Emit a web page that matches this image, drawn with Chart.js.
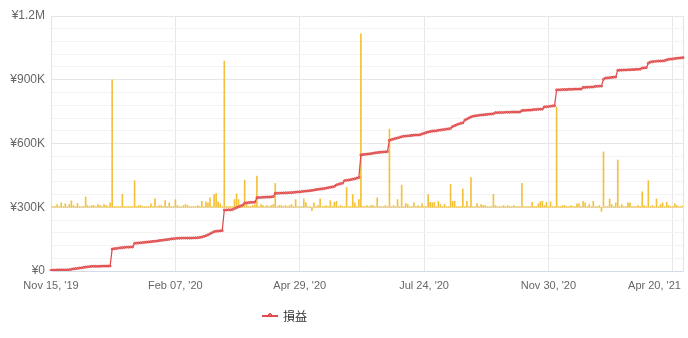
<!DOCTYPE html>
<html>
<head>
<meta charset="utf-8">
<script src="https://cdn.jsdelivr.net/npm/chart.js@4/dist/chart.umd.min.js"></script>
<style>
  html, body { margin: 0; padding: 0; background: #fff; }
  #wrap { position: relative; width: 688px; height: 338px; }
  #legend { position: absolute; left: 262px; top: 307px; display: flex; align-items: center;
            font: 12px "Noto Sans CJK JP", "Liberation Sans", sans-serif; color: #333; }
  #legend .sw { position: relative; width: 16px; height: 2px; background: #e04a4a; margin-right: 5px; }
  #legend .sw::after { content: ""; position: absolute; left: 6px; top: -1.5px; width: 4px; height: 4px;
                       border-radius: 50%; background: #ee7a7a; border: 0.5px solid #d63a3a; box-sizing: border-box; }
</style>
</head>
<body>
<div id="wrap">
  <canvas id="c" width="688" height="338"></canvas>
  <div id="legend"><span class="sw"></span>損益</div>
</div>
<script>
// Cumulative profit (thousand yen), one value per trading record
const cumulativeProfit = [
  3,4,4,5,5,5,5,5,5,6,
  8,10,11,12,14,15,17,18,20,21,
  22,22,22,22,22,23,23,23,23,24,
  103,105,106,107,109,110,111,112,112,113,
  113,130,131,132,133,134,135,136,137,138,
  139,140,141,143,144,145,147,148,149,151,
  152,153,154,154,155,155,155,155,155,155,
  156,156,157,158,160,163,166,170,175,180,
  185,187,188,189,190,287,287,288,288,289,
  294,298,302,306,310,320,321,322,323,323,
  324,345,346,346,347,347,348,348,349,350,
  365,366,366,367,367,368,368,369,369,370,
  371,372,372,374,375,376,377,378,379,381,
  383,384,386,387,388,390,392,394,396,398,
  405,408,411,413,425,427,428,430,432,434,
  437,440,546,548,549,550,551,552,554,556,
  557,558,559,560,561,562,615,618,621,624,
  626,629,632,634,635,636,637,638,639,640,
  640,641,645,648,651,654,656,658,659,660,
  662,663,665,666,668,669,671,680,684,688,
  692,695,697,710,715,720,725,728,730,731,
  733,734,735,736,737,738,739,740,745,745,
  746,746,746,747,747,747,748,748,748,748,
  748,755,756,756,757,757,758,760,760,761,
  761,762,772,773,774,775,777,778,852,853,
  853,854,854,854,855,855,855,856,856,856,
  856,864,864,865,865,866,866,869,869,870,
  870,902,908,909,910,911,912,913,944,945,
  945,946,946,947,947,948,948,949,949,950,
  955,956,957,978,983,985,986,987,988,988,
  989,990,994,996,997,998,1000,1001,1002,1003,
  1004
];

// Per-record profit (thousand yen)
const dailyProfit = [
  0.4,0.4,0.4,1.6,0.4,2.6,0.4,2.0,0.4,1.6,
  3.8,1.0,0.4,2.2,0.4,0.4,0.4,6.0,1.0,0.4,
  1.0,1.0,0.4,1.6,1.0,0.4,1.6,1.0,0.4,2.6,
  75,0.4,0.4,0.4,0.4,7.6,0.4,0.4,0.4,0.4,
  0.4,15.6,0.4,1.0,1.0,0.4,0.4,0.4,0.4,2.0,
  0.4,4.9,0.4,1.0,1.0,0.4,3.9,0.4,2.6,0.4,
  0.4,4.5,1.0,0.4,0.4,1.0,1.6,1.0,0.4,0.4,
  0.4,0.4,1.0,0.4,3.5,0.4,3.2,2.6,5.5,0.4,
  7.5,8.0,3.2,2.0,0.4,86,0.4,0.4,0.4,0.4,
  4.5,7.9,4.5,0.4,0.4,16,1.6,0.4,0.4,1.0,
  1.6,18.4,0.4,1.6,1.0,0.4,1.0,0.4,1.0,1.6,
  14,0.4,1.0,1.0,0.4,1.0,0.4,1.0,1.6,0.4,
  4.5,0.4,0.4,0.4,4.9,2.6,0.4,0.4,-2.0,2.6,
  0.4,1.0,4.9,0.4,0.4,1.0,0.4,3.9,0.4,2.9,
  3.5,0.4,1.0,0.4,0.4,11.7,0.4,0.4,7.6,2.6,
  0.4,4.5,102,0.4,0.4,1.0,0.4,1.0,1.0,0.4,
  5.5,0.4,0.4,0.4,1.0,0.4,46,0.4,1.0,0.4,
  4.5,0.4,13,0.4,2.2,1.6,0.4,0.4,2.6,0.4,
  1.0,0.4,2.0,0.4,0.4,7.5,2.9,2.6,2.9,0.4,
  3.5,1.6,0.4,1.6,0.4,0.4,13.5,3.5,3.5,0.4,
  0.4,0.4,10.8,0.4,3.5,0.4,17.5,0.4,0.4,2.2,
  0.4,1.6,1.0,1.0,0.4,0.4,0.4,7.6,1.0,0.4,
  0.4,0.4,1.0,0.4,1.0,0.4,0.4,1.0,0.4,0.4,
  0.4,14,0.4,0.4,0.4,0.4,2.9,0.4,0.4,2.0,
  3.2,3.5,1.0,2.9,0.4,3.2,0.4,0.4,59,0.4,
  0.4,1.0,1.0,0.4,0.4,1.0,0.4,0.4,2.0,2.0,
  0.4,3.5,2.6,0.4,1.6,0.4,3.5,0.4,0.4,1.0,
  -2.4,32.6,0.4,0.4,4.9,1.6,0.4,2.6,27.8,0.4,
  1.6,0.4,0.4,2.6,2.6,0.4,0.4,0.4,1.0,0.4,
  9.1,1.0,0.4,15.6,0.4,1.0,0.4,4.9,0.4,1.6,
  2.6,0.4,2.9,1.0,0.4,0.4,2.0,1.0,0.4,0.4,
  1.0
];

// Date labels shown on the x axis, one every `tickEvery` records
const tickLabels = ["Nov 15, '19", "Feb 07, '20", "Apr 29, '20", "Jul 24, '20", "Nov 30, '20", "Apr 20, '21"];
const tickEvery = 61;

// Record numbers used as categories
const categories = cumulativeProfit.map((_, i) => i + 1);

const yenLabel = v => v === 0 ? '¥0' : (v >= 1000 ? '¥' + (v / 1000) + 'M' : '¥' + v + 'K');

new Chart(document.getElementById('c'), {
  data: {
    labels: categories,
    datasets: [
      {
        type: 'line',
        label: '損益',
        data: cumulativeProfit,
        yAxisID: 'y',
        borderColor: '#e24646',
        borderWidth: 1.2,
        pointRadius: 1.1,
        pointBorderWidth: 0.7,
        pointBackgroundColor: '#f07a7a',
        pointBorderColor: '#d83c3c',
        tension: 0,
        order: 1
      },
      {
        type: 'bar',
        label: 'daily',
        data: dailyProfit,
        yAxisID: 'y2',
        backgroundColor: '#f2c23c',
        barThickness: 1,
        order: 2
      }
    ]
  },
  options: {
    responsive: false,
    animation: false,
    layout: { padding: { top: 16, right: 5, left: 0, bottom: 0 } },
    plugins: { legend: { display: false }, tooltip: { enabled: false } },
    scales: {
      x: {
        type: 'category',
        offset: false,
        grid: { color: '#e8e8e8', drawTicks: false, offset: false },
        border: { color: '#d3dbe6' },
        ticks: {
          autoSkip: false,
          maxRotation: 0,
          padding: 8,
          color: '#666',
          font: { family: '"Liberation Sans", Arial, sans-serif', size: 11 },
          callback: (v, i) => {
            if (i % tickEvery !== 0) return null;
            const k = i / tickEvery;
            const t = tickLabels[k];
            // keep the final label inside the canvas
            return k === tickLabels.length - 1 ? t + '\u00a0'.repeat(12) : t;
          }
        },
        afterFit: s => { s.height = 67; s.paddingLeft = 0; s.paddingRight = 0; }
      },
      y: {
        min: 0,
        max: 1200,
        grid: {
          drawTicks: false,
          color: c => (c.tick && c.tick.value % 300 === 0) ? '#e6e6e6' : '#f3f3f3'
        },
        border: { color: '#e3e3e3' },
        ticks: {
          stepSize: 60,
          autoSkip: false,
          padding: 6,
          color: '#666',
          font: { family: '"Liberation Sans", Arial, sans-serif', size: 12 },
          callback: v => v % 300 === 0 ? yenLabel(v) : ''
        },
        afterFit: s => { s.width = 51; }
      },
      y2: {
        position: 'right',
        min: -37.5,
        max: 112.5,
        grid: { display: false },
        border: { color: '#e3e3e3' },
        ticks: { display: false },
        afterFit: s => { s.width = 0; }
      }
    }
  }
});
</script>
</body>
</html>
